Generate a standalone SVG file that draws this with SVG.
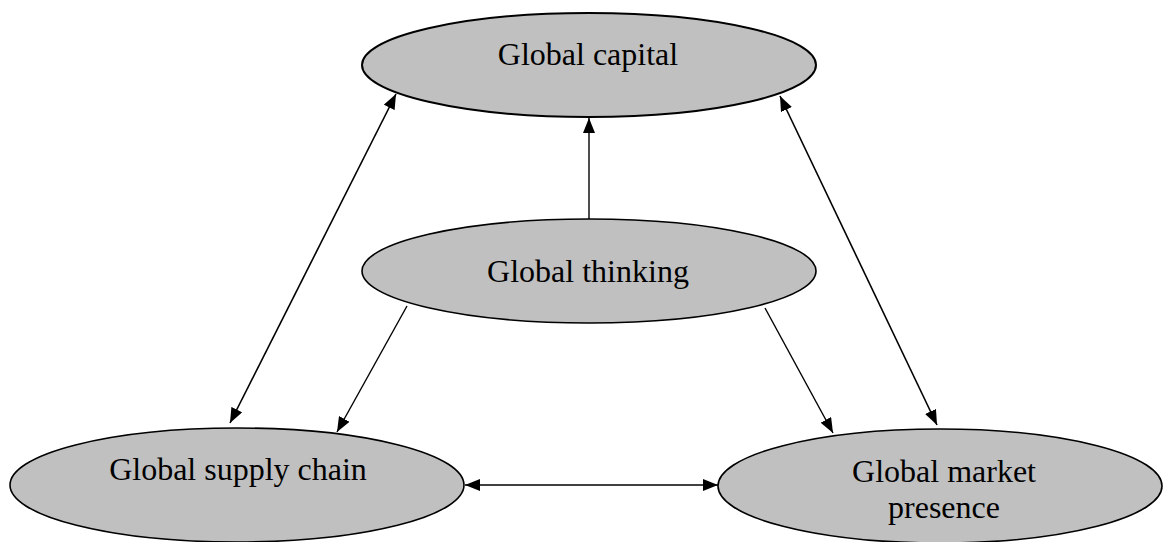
<svg xmlns="http://www.w3.org/2000/svg" width="1163" height="542" viewBox="0 0 1163 542">
<style>
.node ellipse{fill:#c0c0c0;stroke:#000;stroke-width:1.6}
.node text{font-family:"Liberation Serif","Times New Roman",serif;font-size:32px;fill:#000;text-anchor:middle}
.conn line{stroke:#000;stroke-width:1.4;fill:none}
</style>
<defs>
<marker id="ah" viewBox="0 0 15 12" refX="15" refY="6" markerWidth="15" markerHeight="12" markerUnits="userSpaceOnUse" orient="auto-start-reverse">
<path d="M0,0 L15,6 L0,12 z" fill="#000"/>
</marker>
</defs>
<rect width="1163" height="542" fill="#fff"/>
<g id="connectors" class="conn">
<line x1="589" y1="219" x2="589" y2="118" marker-end="url(#ah)"/>
<line x1="230" y1="423" x2="396" y2="94" marker-start="url(#ah)" marker-end="url(#ah)" style="stroke-width:1.6"/>
<line x1="937" y1="425" x2="780" y2="96" marker-start="url(#ah)" marker-end="url(#ah)" style="stroke-width:1.6"/>
<line x1="407" y1="306" x2="337" y2="432" marker-end="url(#ah)"/>
<line x1="765" y1="308" x2="833" y2="433" marker-end="url(#ah)"/>
<line x1="465" y1="485" x2="718" y2="485" marker-start="url(#ah)" marker-end="url(#ah)"/>
</g>
<g id="global-capital" class="node">
<ellipse cx="589" cy="65" rx="227" ry="52" style="stroke-width:2"/>
<text x="588" y="65">Global capital</text>
</g>
<g id="global-thinking" class="node">
<ellipse cx="589" cy="271" rx="227" ry="52"/>
<text x="588" y="282">Global thinking</text>
</g>
<g id="global-supply-chain" class="node">
<ellipse cx="237" cy="485" rx="227" ry="57"/>
<text x="238" y="480">Global supply chain</text>
</g>
<g id="global-market-presence" class="node">
<ellipse cx="940" cy="486" rx="222" ry="57"/>
<text x="944" y="482">Global market</text>
<text x="944" y="518">presence</text>
</g>
</svg>
